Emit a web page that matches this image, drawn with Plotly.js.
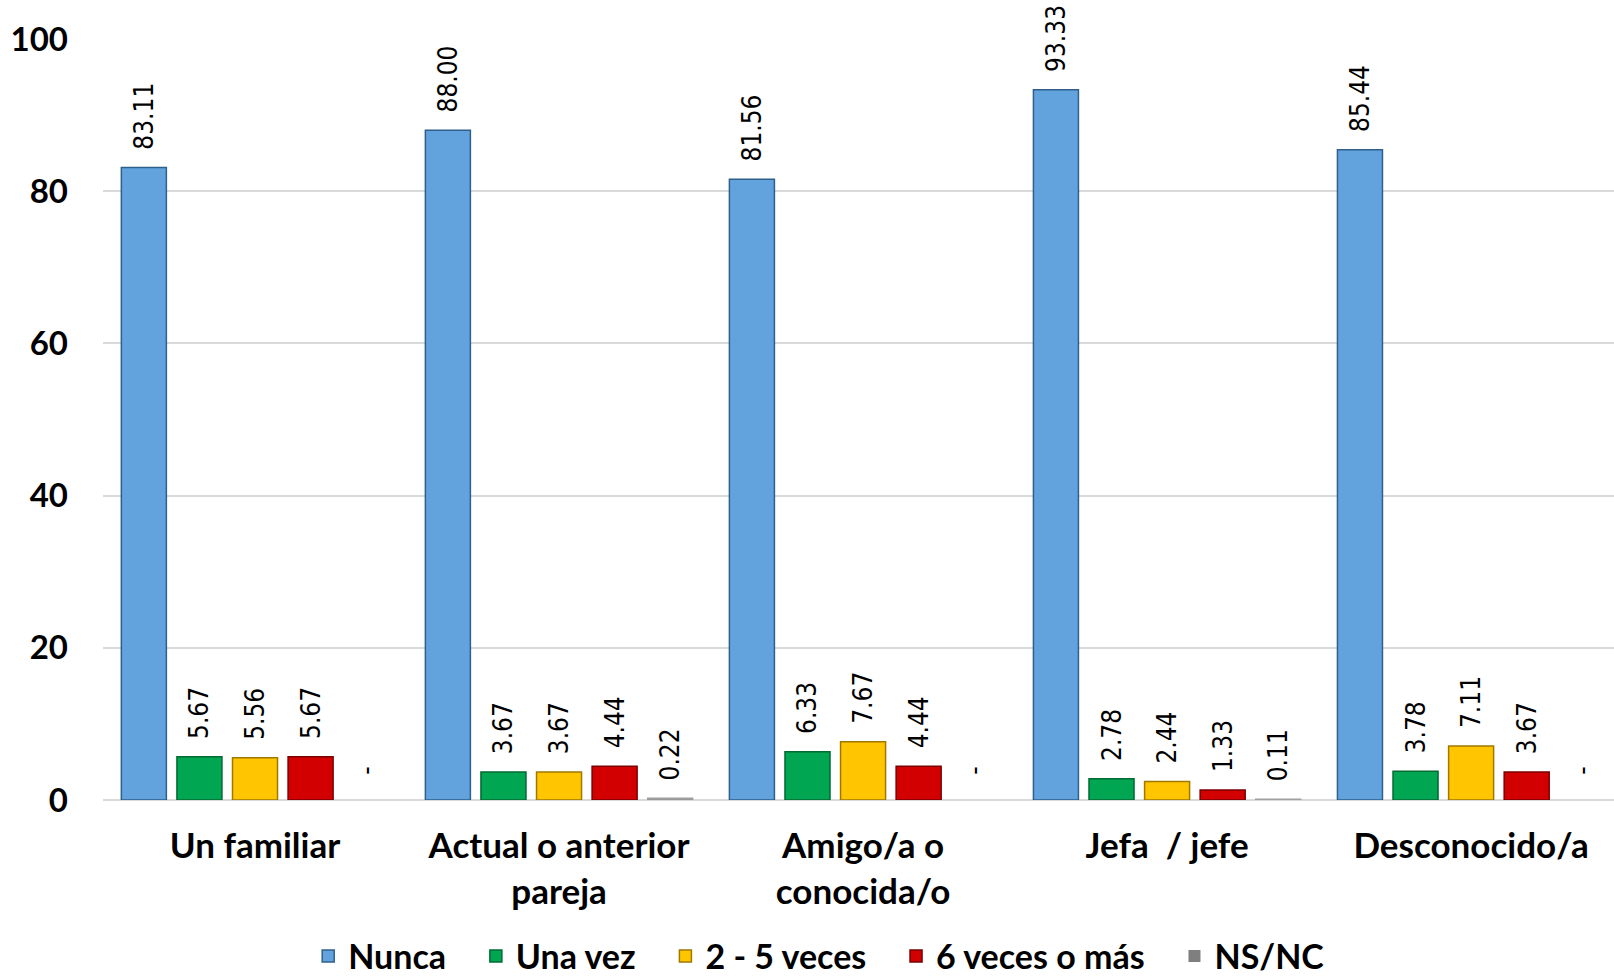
<!DOCTYPE html>
<html>
<head>
<meta charset="utf-8">
<script src="https://cdn.plot.ly/plotly-3.0.1.min.js"></script>
<style>
  html, body { margin: 0; padding: 0; background: #ffffff; }
  #chart { width: 1614px; height: 980px; }
</style>
</head>
<body>
<div id="chart"></div>
<script>
// ---- Data ----
const categories = [
  "Un familiar",
  "Actual o anterior<br>pareja",
  "Amigo/a o<br>conocida/o",
  "Jefa\u00A0\u00A0/ jefe",
  "Desconocido/a"
];
const seriesNames = ["Nunca", "Una vez", "2 - 5 veces", "6 veces o más", "NS/NC"];
const nunca      = [83.11, 88.00, 81.56, 93.33, 85.44];
const unaVez     = [5.67, 3.67, 6.33, 2.78, 3.78];
const dosCinco   = [5.56, 3.67, 7.67, 2.44, 7.11];
const seisOMas   = [5.67, 4.44, 4.44, 1.33, 3.67];
const nsnc       = [0, 0.22, 0, 0.11, 0];
const yTicks     = [0, 20, 40, 60, 80, 100];

// ---- Styles ----
const colors = ["#62A3DE", "#00A651", "#FFC600", "#D20000", "#7F7F7F"];
const lines  = ["#2F5F8A", "#006A33", "#A07800", "#7A0000", "#A0A0A0"];
const allSeries = [nunca, unaVez, dosCinco, seisOMas, nsnc];

const labelFont = { family: "'Liberation Sans Narrow', 'DejaVu Sans Condensed', 'Liberation Sans', sans-serif", size: 26, color: "#000000" };
const boldFont = (s) => ({ family: "Lato, 'Open Sans', sans-serif", size: s, color: "#000000", weight: "bold" });
const PAD = "\u00A0\u00A0";

const traces = allSeries.map((vals, i) => ({
  type: "bar",
  name: seriesNames[i] + "\u00A0\u00A0\u00A0",
  x: categories,
  y: vals,
  text: vals.map(v => v === 0 ? PAD + "\u00A0-" : PAD + v.toFixed(2)),
  textposition: "outside",
  textangle: -90,
  constraintext: "none",
  cliponaxis: false,
  textfont: labelFont,
  hoverinfo: "skip",
  marker: { color: colors[i], line: { color: lines[i], width: vals.map(v => v === 0 ? 0 : 1.5) } }
}));

const layout = {
  width: 1614,
  height: 980,
  paper_bgcolor: "#ffffff",
  plot_bgcolor: "#ffffff",
  barmode: "group",
  bargap: 0.086,
  bargroupgap: 0.19,
  margin: { l: 103, r: 0, t: 39, b: 180, pad: 0 },
  showlegend: true,
  legend: {
    orientation: "h",
    x: 0.515, xanchor: "center", xref: "container",
    y: 0.024, yanchor: "middle", yref: "container",
    font: boldFont(34),
    itemclick: false
  },
  xaxis: {
    type: "category",
    range: [-0.5, 4.47],
    showgrid: false,
    zeroline: false,
    showline: false,
    ticks: "",
    ticklabelstandoff: 22,
    tickfont: boldFont(35),
    automargin: false
  },
  yaxis: {
    range: [0, 100],
    tickvals: yTicks,
    ticktext: yTicks.map(String),
    showgrid: true,
    gridcolor: "#D9D9D9",
    gridwidth: 2,
    zeroline: true,
    zerolinecolor: "#D9D9D9",
    zerolinewidth: 2,
    showline: false,
    ticks: "",
    ticklabelstandoff: 34,
    tickfont: boldFont(33),
    automargin: false
  }
};

Plotly.newPlot("chart", traces, layout, { displayModeBar: false, staticPlot: true });
</script>
</body>
</html>
